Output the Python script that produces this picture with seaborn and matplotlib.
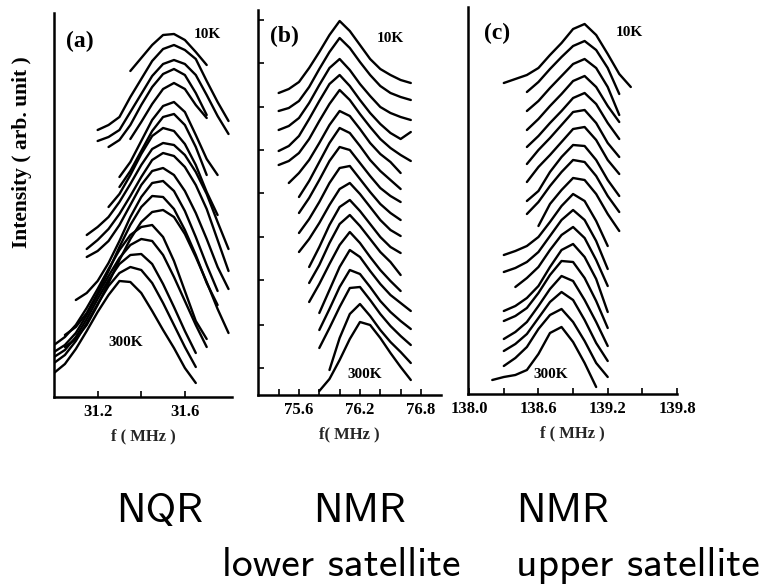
import matplotlib
matplotlib.use("Agg")
import matplotlib.pyplot as plt
import pandas as pd
import seaborn as sns

# ---------------- data (intensity in arb. units, stacked traces) ----------------
# panel (a) NQR : traces sampled every 0.05 MHz, top trace = 10K, bottom = 300K
a_step = 0.05
a_start = [31.35, 31.20, 31.20, 31.25, 31.35, 31.30, 31.30, 31.25, 31.15, 31.15,
           31.15, 31.10, 31.05, 31.05, 31.00, 31.00, 31.00, 31.00, 31.00]
a_traces = [
    [326, 339, 352, 362, 363, 357, 345, 332],
    [267, 272, 280, 300, 318, 336, 348, 352, 347, 338, 316, 295, 276],
    [256, 260, 267, 285, 303, 321, 333, 337, 333, 322, 302, 281, 263],
    [250, 257, 272, 292, 310, 323, 328, 322, 304, 282],
    [258, 275, 293, 308, 314, 308, 292, 279],
    [220, 235, 256, 277, 291, 295, 285, 262, 238, 222],
    [210, 226, 246, 266, 280, 283, 272, 250, 222],
    [190, 203, 222, 243, 261, 269, 266, 253, 232, 205, 182],
    [162, 170, 180, 195, 213, 232, 248, 254, 252, 242, 225, 203, 175, 148],
    [148, 157, 168, 183, 201, 220, 237, 244, 241, 230, 212, 188, 157, 126],
    [140, 146, 156, 172, 192, 212, 226, 229, 222, 206, 184, 158, 130, 108],
    [97, 104, 116, 134, 156, 180, 200, 214, 216, 206, 186, 160, 132, 106],
    [62, 70, 84, 104, 126, 150, 172, 190, 201, 200, 188, 167, 142, 114, 92],
    [50, 58, 72, 92, 114, 137, 158, 175, 185, 187, 180, 163, 140, 115, 88, 64],
    [52, 60, 72, 89, 108, 128, 147, 162, 170, 172, 160, 136, 106, 76, 58],
    [45, 52, 64, 82, 102, 121, 139, 152, 158, 156, 142, 120, 96, 72, 50],
    [40, 47, 60, 78, 98, 117, 133, 142, 143, 133, 113, 90, 66, 44],
    [34, 42, 56, 74, 93, 111, 124, 130, 127, 114, 94, 72, 50, 30],
    [24, 33, 48, 66, 85, 102, 116, 115, 104, 86, 67, 49, 29, 14],
]

# panel (b) NMR lower satellite : every 0.1 MHz
b_step = 0.1
b_start = [75.4, 75.4, 75.4, 75.4, 75.4, 75.5, 75.6, 75.6, 75.6, 75.6,
           75.7, 75.7, 75.7, 75.8, 75.8, 75.8, 75.9, 75.8]
b_traces = [
    [302, 306, 313, 327, 343, 360, 374, 364, 350, 336, 326, 320, 315, 312],
    [284, 287, 294, 308, 326, 343, 357, 347, 333, 320, 309, 302, 298, 295],
    [265, 269, 277, 292, 310, 327, 336, 325, 311, 299, 288, 282, 278, 275],
    [244, 249, 259, 276, 294, 311, 320, 309, 295, 282, 271, 262, 256, 263],
    [230, 234, 242, 256, 274, 291, 305, 295, 281, 268, 256, 247, 240, 234],
    [212, 222, 235, 252, 270, 284, 279, 266, 252, 241, 233, 222],
    [198, 214, 233, 252, 267, 262, 249, 235, 224, 215, 206],
    [182, 197, 215, 234, 248, 245, 232, 219, 207, 199, 193],
    [162, 176, 193, 212, 227, 229, 216, 203, 191, 182, 175],
    [143, 156, 172, 190, 206, 212, 201, 188, 175, 165, 159],
    [128, 148, 170, 188, 195, 184, 171, 158, 148, 142],
    [112, 130, 152, 171, 180, 169, 156, 143, 133, 120],
    [93, 111, 131, 150, 163, 152, 138, 125, 114, 104],
    [82, 105, 128, 145, 138, 124, 111, 100, 92, 84],
    [65, 86, 108, 125, 121, 108, 94, 83, 74, 66],
    [47, 67, 88, 107, 108, 95, 81, 69, 59, 50],
    [25, 57, 81, 91, 79, 65, 53, 43, 32],
    [4, 16, 35, 56, 73, 70, 57, 42, 28, 15],
]

# panel (c) NMR upper satellite : every 0.1 MHz
c_step = 0.1
c_start = [138.3, 138.5, 138.5, 138.5, 138.5, 138.5, 138.5, 138.5, 138.5, 138.6,
           138.3, 138.3, 138.4, 138.3, 138.3, 138.3, 138.3, 138.3, 138.2]
c_traces = [
    [311, 315, 319, 326, 339, 351, 365, 370, 359, 340, 320, 307],
    [302, 312, 325, 337, 348, 353, 344, 326, 300],
    [283, 293, 306, 318, 330, 335, 326, 307, 279],
    [264, 275, 288, 300, 313, 318, 307, 288, 272],
    [247, 258, 271, 283, 296, 301, 290, 271, 255],
    [230, 244, 256, 269, 282, 284, 271, 251, 237],
    [212, 227, 239, 252, 265, 267, 254, 234, 220],
    [193, 203, 222, 237, 249, 248, 234, 214, 198],
    [180, 192, 208, 222, 234, 232, 218, 198, 182],
    [168, 190, 204, 216, 214, 200, 180, 163],
    [139, 143, 148, 157, 172, 188, 200, 193, 173, 148],
    [122, 126, 132, 142, 158, 174, 184, 174, 153, 125],
    [107, 116, 127, 144, 159, 167, 156, 134, 108],
    [83, 88, 96, 108, 127, 144, 150, 137, 115, 82],
    [73, 78, 86, 101, 119, 133, 132, 116, 93, 66],
    [55, 62, 72, 88, 105, 118, 113, 94, 72, 48],
    [43, 50, 60, 76, 92, 102, 94, 74, 51, 33],
    [28, 36, 47, 65, 79, 85, 72, 53, 31, 17],
    [14, 17, 19, 24, 40, 61, 67, 52, 31, 7],
]

a_ticks = [31.2, 31.6]
a_minor = [31.4]
b_ticks = [75.6, 76.2, 76.8]
b_minor = [75.4, 75.8, 76.0, 76.4, 76.6]
c_ticks = [138.0, 138.6, 139.2, 139.8]
c_minor = [138.3, 138.9, 139.5]
b_yticks = [375, 332, 288, 245, 202, 158, 115, 70, 27]


def frame(start, traces, step):
    rows = []
    for i, (s, tr) in enumerate(zip(start, traces)):
        for j, v in enumerate(tr):
            rows.append({"trace": i, "f": round(s + j * step, 4), "I": v})
    return pd.DataFrame(rows)


sns.set_theme(style="white")
plt.rcParams["font.family"] = ["Liberation Serif", "DejaVu Serif"]

W, H = 767, 588
fig = plt.figure(figsize=(W / 100, H / 100), dpi=100)


def px_axes(l, r, b, t):
    return fig.add_axes([l / W, 1 - b / H, (r - l) / W, (b - t) / H])


panels = [
    dict(box=(54, 232, 397, 13), xlim=(31.0, 31.816), ylim=(0, 384),
         df=frame(a_start, a_traces, a_step), ticks=a_ticks, minor=a_minor,
         labels=["31.2", "31.6"], xlabel="f ( MHz )", yt=[]),
    dict(box=(258, 441, 395, 10), xlim=(75.197, 76.997), ylim=(0, 385),
         df=frame(b_start, b_traces, b_step), ticks=b_ticks, minor=b_minor,
         labels=["75.6", "76.2", "76.8"], xlabel="f( MHz )", yt=b_yticks),
    dict(box=(468, 677, 394, 7), xlim=(137.99, 139.8), ylim=(0, 387),
         df=frame(c_start, c_traces, c_step), ticks=c_ticks, minor=c_minor,
         labels=["138.0", "138.6", "139.2", "139.8"], xlabel="f ( MHz )", yt=[]),
]

for p in panels:
    ax = px_axes(*p["box"])
    sns.lineplot(data=p["df"], x="f", y="I", units="trace", estimator=None,
                 sort=False, color="black", lw=1.7, ax=ax, legend=False,
                 solid_joinstyle="round", solid_capstyle="round")
    ax.set_xlim(*p["xlim"])
    ax.set_ylim(*p["ylim"])
    for s in ("top", "right"):
        ax.spines[s].set_visible(False)
    for s in ("left", "bottom"):
        ax.spines[s].set_color("black")
        ax.spines[s].set_linewidth(1.8)
    ax.set_xticks(p["ticks"])
    ax.set_xticklabels(p["labels"], fontsize=12, fontweight="bold")
    ax.set_xticks(p["minor"], minor=True)
    ax.set_yticks(p["yt"])
    ax.set_yticklabels([])
    ax.tick_params(axis="x", which="both", direction="in", length=4, width=1.2,
                   colors="black", pad=5, bottom=True)
    ax.tick_params(axis="y", which="both", direction="in", length=4, width=1.2,
                   colors="black", left=True)
    ax.set_xlabel(p["xlabel"], fontsize=12, fontweight="bold", labelpad=6)
    ax.set_ylabel("")
    ax.patch.set_alpha(0)


def ftext(x, y, s, **kw):
    fig.text(x / W, 1 - y / H, s, ha="center", va="center", color="black", **kw)


ftext(22, 152, "Intensity ( arb. unit )", rotation=90, fontsize=15.5, fontweight="bold")
for (x, y, s) in [(80, 41, "(a)"), (284, 36, "(b)"), (497, 33, "(c)")]:
    ftext(x, y, s, fontsize=17, fontweight="bold")
for (x, y, s) in [(207, 35, "10K"), (126, 343, "300K"), (390, 39, "10K"),
                  (365, 374, "300K"), (629, 33, "10K"), (551, 374, "300K")]:
    ftext(x, y, s, fontsize=11, fontweight="bold")

for (x, y, s) in [(160, 511, "NQR"), (360, 511, "NMR"), (563, 511, "NMR"),
                  (341, 566, "lower satellite"), (638, 566, "upper satellite")]:
    ftext(x, y, s, fontsize=30, family=["cmss10", "DejaVu Sans"])

fig.savefig("out.png", dpi=100)
